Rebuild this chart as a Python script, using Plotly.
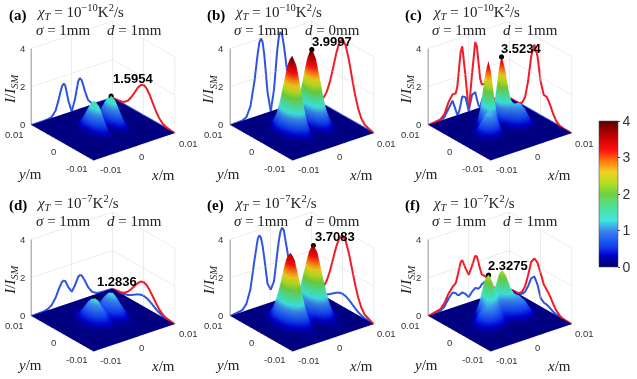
import numpy as np
import plotly.graph_objects as go

W, H = 637, 379

# grid nodes in mm, x grid is stored for x>=0 and mirrored
x_nodes = [0, 0.8, 1.6, 2, 2.4, 2.8, 3.2, 4, 5, 6, 7]
y_nodes = [-7, -6, -5, -4, -3, -2, -1, 0, 1, 2, 3, 4, 5, 6, 7]
# the surfaces sit narrower in y than the curves on the x wall
surface_y_scale = 0.8

# symmetric panels: rows for y = 0..7
z_a = [
    [0, .59, 1.47, 1.60, 1.48, 1.20, .86, .32, .05, .01, 0],
    [0, .55, 1.38, 1.50, 1.39, 1.13, .81, .30, .05, .01, 0],
    [0, .46, 1.14, 1.24, 1.15, .93, .67, .25, .04, .01, 0],
    [0, .33, .83, .90, .83, .68, .48, .18, .03, 0, 0],
    [0, .21, .53, .58, .53, .43, .31, .12, .02, 0, 0],
    [0, .12, .30, .32, .30, .24, .17, .06, .01, 0, 0],
    [0, .06, .15, .16, .15, .12, .09, .03, .01, 0, 0],
    [0, .03, .06, .07, .07, .05, .04, .01, 0, 0, 0],
]
z_b = [
    [0, 1.08, 3.10, 3.77, 4.00, 3.80, 3.27, 1.88, .62, .13, .02],
    [0, 1.01, 2.91, 3.54, 3.75, 3.56, 3.07, 1.76, .58, .12, .02],
    [0, .84, 2.40, 2.92, 3.10, 2.95, 2.53, 1.46, .48, .10, .02],
    [0, .61, 1.75, 2.12, 2.25, 2.14, 1.84, 1.06, .35, .07, .01],
    [0, .39, 1.12, 1.36, 1.44, 1.37, 1.18, .68, .22, .05, .01],
    [0, .22, .63, .77, .81, .77, .66, .38, .13, .03, 0],
    [0, .11, .31, .38, .40, .38, .33, .19, .06, .01, 0],
    [0, .05, .14, .17, .18, .17, .14, .08, .03, .01, 0],
]
z_d = [
    [.56, .85, 1.23, 1.28, 1.25, 1.09, .92, .52, .20, .07, .02],
    [.53, .80, 1.16, 1.21, 1.18, 1.03, .87, .49, .19, .07, .02],
    [.45, .68, .98, 1.02, 1.00, .87, .74, .42, .16, .06, .02],
    [.34, .52, .75, .78, .76, .66, .56, .32, .12, .04, .01],
    [.23, .35, .51, .53, .51, .45, .38, .21, .08, .03, .01],
    [.14, .21, .31, .32, .31, .27, .23, .13, .05, .02, 0],
    [.08, .11, .17, .17, .17, .15, .12, .07, .03, .01, 0],
    [.04, .06, .08, .08, .08, .07, .06, .03, .01, 0, 0],
]
z_e = [
    [.67, 1.05, 2.45, 3.10, 3.55, 3.71, 3.55, 2.50, 1.05, .35, .10],
    [.63, .99, 2.32, 2.93, 3.36, 3.51, 3.36, 2.37, .99, .33, .09],
    [.54, .84, 1.96, 2.48, 2.84, 2.97, 2.84, 2.00, .84, .28, .08],
    [.41, .64, 1.49, 1.88, 2.15, 2.25, 2.15, 1.52, .64, .21, .06],
    [.28, .43, 1.01, 1.27, 1.46, 1.52, 1.46, 1.03, .43, .14, .04],
    [.17, .26, .61, .77, .88, .92, .88, .62, .26, .09, .02],
    [.09, .14, .33, .42, .48, .50, .48, .34, .14, .05, .01],
    [.04, .07, .16, .20, .23, .24, .23, .17, .07, .02, .01],
]
# four lobe panels: rows for y = -7..7
z_c = [
    [0, 0, 0, .01, .01, .01, .01, .01, .01, 0, 0],
    [0, .01, .02, .03, .04, .04, .05, .05, .04, .01, 0],
    [0, .02, .08, .11, .13, .15, .17, .18, .13, .05, .01],
    [0, .06, .19, .27, .33, .39, .43, .46, .33, .11, .03],
    [0, .12, .37, .51, .62, .73, .80, .85, .61, .21, .06],
    [0, .21, .58, .76, .90, 1.02, 1.11, 1.15, .83, .29, .08],
    [0, .40, .96, 1.09, 1.14, 1.16, 1.18, 1.17, .83, .29, .08],
    [0, .88, 1.79, 1.77, 1.54, 1.28, 1.09, .90, .61, .21, .06],
    [0, 1.56, 3.01, 2.77, 2.15, 1.49, .99, .56, .33, .11, .03],
    [0, 1.89, 3.52, 3.24, 2.40, 1.52, .87, .30, .13, .05, .01],
    [0, 1.50, 2.84, 2.53, 1.86, 1.14, .61, .15, .04, .01, 0],
    [0, .77, 1.44, 1.29, .94, .57, .30, .06, .01, 0, 0],
    [0, .25, .48, .42, .31, .18, .09, .02, 0, 0, 0],
    [0, .05, .10, .09, .07, .04, .02, 0, 0, 0, 0],
    [0, .01, .01, .01, .01, .01, 0, 0, 0, 0, 0],
]
z_f = [
    [.01, .01, .02, .02, .03, .03, .03, .03, .03, .01, 0],
    [.03, .04, .06, .07, .08, .09, .10, .11, .08, .04, .02],
    [.07, .10, .15, .18, .20, .23, .25, .26, .20, .10, .04],
    [.16, .21, .32, .36, .41, .46, .49, .52, .40, .20, .07],
    [.26, .35, .53, .61, .68, .74, .80, .82, .64, .31, .12],
    [.41, .54, .80, .89, .95, 1.00, 1.04, 1.05, .80, .39, .15],
    [.63, .83, 1.18, 1.25, 1.25, 1.21, 1.18, 1.09, .81, .39, .15],
    [.98, 1.26, 1.74, 1.75, 1.61, 1.41, 1.24, .97, .66, .31, .12],
    [1.33, 1.68, 2.20, 2.15, 1.90, 1.55, 1.20, .78, .42, .20, .07],
    [1.45, 1.85, 2.33, 2.25, 1.90, 1.45, 1.05, .52, .22, .10, .04],
    [1.21, 1.54, 2.06, 1.96, 1.62, 1.20, .83, .36, .12, .04, .02],
    [.75, .95, 1.27, 1.20, .98, .73, .49, .19, .05, .01, 0],
    [.34, .44, .58, .55, .45, .32, .21, .07, .01, 0, 0],
    [.12, .15, .20, .19, .15, .11, .07, .03, 0, 0, 0],
    [.03, .04, .05, .05, .04, .03, .02, .01, 0, 0, 0],
]
# blue wall curves that are not plain cuts of the grid
blue_c_x = [.02, .80, .90, .50, .15, .02, .30, .85, .50, .12, .03]
blue_f_x = [.28, .50, .64, .60, .55, .60, .72, .80, .55, .20, .05]
blue_f_y = [0, .02, .05, .10, .20, .28, .30, .45, 1.05, 1.39, 1.20, .70, .30, .10, .02]

labels = ["(a)", "(b)", "(c)", "(d)", "(e)", "(f)"]
exponents = ["−10", "−10", "−10", "−7", "−7", "−7"]
d_text = ["1mm", "0mm", "1mm", "1mm", "0mm", "1mm"]
peak_text = ["1.5954", "3.9997", "3.5234", "1.2836", "3.7083", "2.3275"]
peak_x = [2.0, 2.4, 1.6, -2.0, 2.8, -1.6]
peak_y = [0, 0, 1.6, 0, 0, 1.6]
peak_z = [1.5954, 3.9997, 3.5234, 1.2836, 3.7083, 2.3275]
peak_shift = [(22, 17), (21, 8), (21, 8), (22, 16), (22, 8), (20, 9)]

xy_ticks = [-.01, 0, .01]
xy_tick_text = ["-0.01", "0", "0.01"]
z_ticks = [0, 2, 4]

panel_x = [103.3, 301.7, 499.5, 103.3, 301.7, 499.5]
panel_y = [90.7, 90.7, 90.7, 281.5, 281.5, 281.5]

jet = [[0, "#000080"], [.04, "#000090"], [.08, "#0000d0"], [.14, "#1040f0"], [.25, "#3a88f0"], [.32, "#40e8e0"],
       [.42, "#50e090"], [.5, "#70d040"], [.58, "#b8e020"], [.65, "#f0d020"], [.72, "#ff8010"],
       [.8, "#ff1010"], [.9, "#c00000"], [1, "#580000"]]

xn = np.array(x_nodes)
yn = np.array(y_nodes)


def full_grid(rows):
    rows = np.array(rows, dtype=float)
    if len(rows) == 8:
        rows = np.vstack([rows[:0:-1], rows])
    rows = np.hstack([rows[:, :0:-1], rows])
    return np.pad(rows, 1)


xs = np.concatenate([[-10], -xn[:0:-1], xn, [10]]) / 1000
ys = np.concatenate([[-10], yn, [10]]) / 1000
ys_surface = np.concatenate([[-10], yn * surface_y_scale, [10]]) / 1000
grids = [full_grid(z) for z in [z_a, z_b, z_c, z_d, z_e, z_f]]


def mirror(half):
    half = np.array(half)
    return np.concatenate([[0], half[:0:-1], half, [0]])


blue_left = [g[8] for g in grids]
blue_right = [g[:, 11] for g in grids]
blue_left[2] = mirror(blue_c_x)
blue_left[5] = mirror(blue_f_x)
blue_right[5] = np.concatenate([[0], blue_f_y, [0]])

fig = go.Figure()
anns = []
RED, BLUE = "#f01c28", "#2f55e0"
SANS, SERIF = "Liberation Sans", "Liberation Serif"


def paper_text(px, py, text, size, family, color="#222", **kw):
    anns.append(dict(x=px / W, y=1 - py / H, xref="paper", yref="paper", text=text, showarrow=False, yanchor="middle",
                     font=dict(size=size, family=family, color=color), **kw))


def tick_text(x, y, z, text, dx, dy):
    return dict(x=x, y=y, z=z, text=text, showarrow=False, xshift=dx, yshift=dy,
                font=dict(size=9.5, family=SANS, color="#333"))


for i in range(6):
    s = "" if i == 0 else str(i + 1)
    g = grids[i]
    # tiny lift keeps the floor grid from showing through the flat part
    fig.add_trace(go.Surface(x=xs, y=ys_surface, z=g + .015, surfacecolor=g, scene="scene" + s, colorscale=jet,
                             cmin=0, cmax=4, showscale=i == 2, hoverinfo="skip",
                             lighting=dict(ambient=.95, diffuse=.15, specular=.03, roughness=1, fresnel=0),
                             colorbar=dict(x=599 / W, xanchor="left", xpad=0, ypad=0, y=1 - 267 / H, yanchor="bottom",
                                           len=146 / H, thickness=19, outlinewidth=.5, tickvals=[0, 1, 2, 3, 4],
                                           ticks="outside", ticklen=2,
                                           tickfont=dict(size=14, family=SANS, color="#333"))))
    wall_y = np.full(len(xs), .01)
    wall_x = np.full(len(ys), .01)
    fig.add_trace(go.Scatter3d(x=xs, y=wall_y, z=g.max(axis=0), mode="lines", scene="scene" + s,
                               line=dict(color=RED, width=4), hoverinfo="skip", showlegend=False))
    fig.add_trace(go.Scatter3d(x=xs, y=wall_y, z=blue_left[i], mode="lines", scene="scene" + s,
                               line=dict(color=BLUE, width=4), hoverinfo="skip", showlegend=False))
    fig.add_trace(go.Scatter3d(x=wall_x, y=ys, z=blue_right[i], mode="lines", scene="scene" + s,
                               line=dict(color=BLUE, width=4), hoverinfo="skip", showlegend=False))
    fig.add_trace(go.Scatter3d(x=wall_x, y=ys, z=g.max(axis=1), mode="lines", scene="scene" + s,
                               line=dict(color=RED, width=4), hoverinfo="skip", showlegend=False))
    fig.add_trace(go.Scatter3d(x=[peak_x[i] / 1000], y=[peak_y[i] / 1000], z=[peak_z[i]], mode="markers",
                               scene="scene" + s, marker=dict(color="black", size=3), hoverinfo="skip",
                               showlegend=False))
    # dark z axis on the left corner
    fig.add_trace(go.Scatter3d(x=[-.01, -.01], y=[.01, .01], z=[0, 4], mode="lines", scene="scene" + s,
                               line=dict(color="#777", width=1.5), hoverinfo="skip", showlegend=False))
    cx, cy = panel_x[i], panel_y[i]
    axis = dict(range=[-.01, .01], tickvals=xy_ticks, showticklabels=False, title="",
                showbackground=False, gridcolor="#dcdcdc", gridwidth=1, zeroline=False, showspikes=False,
                showline=True, linecolor="#d8d8d8", ticks="")
    y_shift = [(-17, -8), (-9.5, -9), (-16.7, -10)]
    x_shift = [(17, -9), (7, -9.5), (13, -10)]
    scene_anns = [dict(x=peak_x[i] / 1000, y=peak_y[i] / 1000, z=peak_z[i], text="<b>%s</b>" % peak_text[i],
                       showarrow=False, xshift=peak_shift[i][0], yshift=peak_shift[i][1],
                       font=dict(size=13, family=SANS, color="black"))]
    for k in range(3):
        scene_anns.append(tick_text(xy_ticks[k], -.01, 0, xy_tick_text[k], *x_shift[k]))
        scene_anns.append(tick_text(-.01, xy_ticks[k], 0, xy_tick_text[k], *y_shift[k]))
        scene_anns.append(tick_text(-.01, .01, z_ticks[k], str(z_ticks[k]), -9, 0))
    scene = dict(domain=dict(x=[(cx - 95) / W, (cx + 95) / W], y=[1 - (cy + 88) / H, 1 - (cy - 88) / H]),
                 xaxis=axis, yaxis=axis,
                 zaxis=dict(axis, range=[0, 4], tickvals=z_ticks, linecolor="#666"),
                 aspectmode="manual", aspectratio=dict(x=1.165, y=1.165, z=.967),
                 camera=dict(eye=dict(x=-.944, y=-1.227, z=.755), up=dict(x=0, y=0, z=1),
                             projection=dict(type="orthographic")),
                 annotations=scene_anns)
    fig.update_layout({"scene" + s: scene})
    ox, oy = cx - 103.3, cy - 90.7
    paper_text(ox + 7, oy + 15, "<b>%s</b>" % labels[i], 15, SERIF, "black", xanchor="left")
    paper_text(ox + 34, oy + 12, "<i>χ<sub>T</sub></i> = 10<sup>%s</sup>K<sup>2</sup>/s" % exponents[i], 15, SERIF,
               xanchor="left")
    paper_text(ox + 34, oy + 30, "<i>σ</i> = 1mm", 15, SERIF, xanchor="left")
    paper_text(ox + 105, oy + 30, "<i>d</i> = %s" % d_text[i], 15, SERIF, xanchor="left")
    paper_text(ox + 11, oy + 89, "<i>I</i>/<i>I<sub>SM</sub></i>", 15, SERIF, textangle=-90, xanchor="center")
    paper_text(ox + 29, oy + 174, "<i>y</i>/m", 15, SERIF, xanchor="center")
    paper_text(ox + 163, oy + 175, "<i>x</i>/m", 15, SERIF, xanchor="center")

fig.update_layout(width=W, height=H, autosize=False, margin=dict(l=0, r=0, t=0, b=0), paper_bgcolor="white",
                  showlegend=False, annotations=anns)
fig.write_html("out.html", config={"displayModeBar": False}, post_script="document.body.style.margin='0';")
